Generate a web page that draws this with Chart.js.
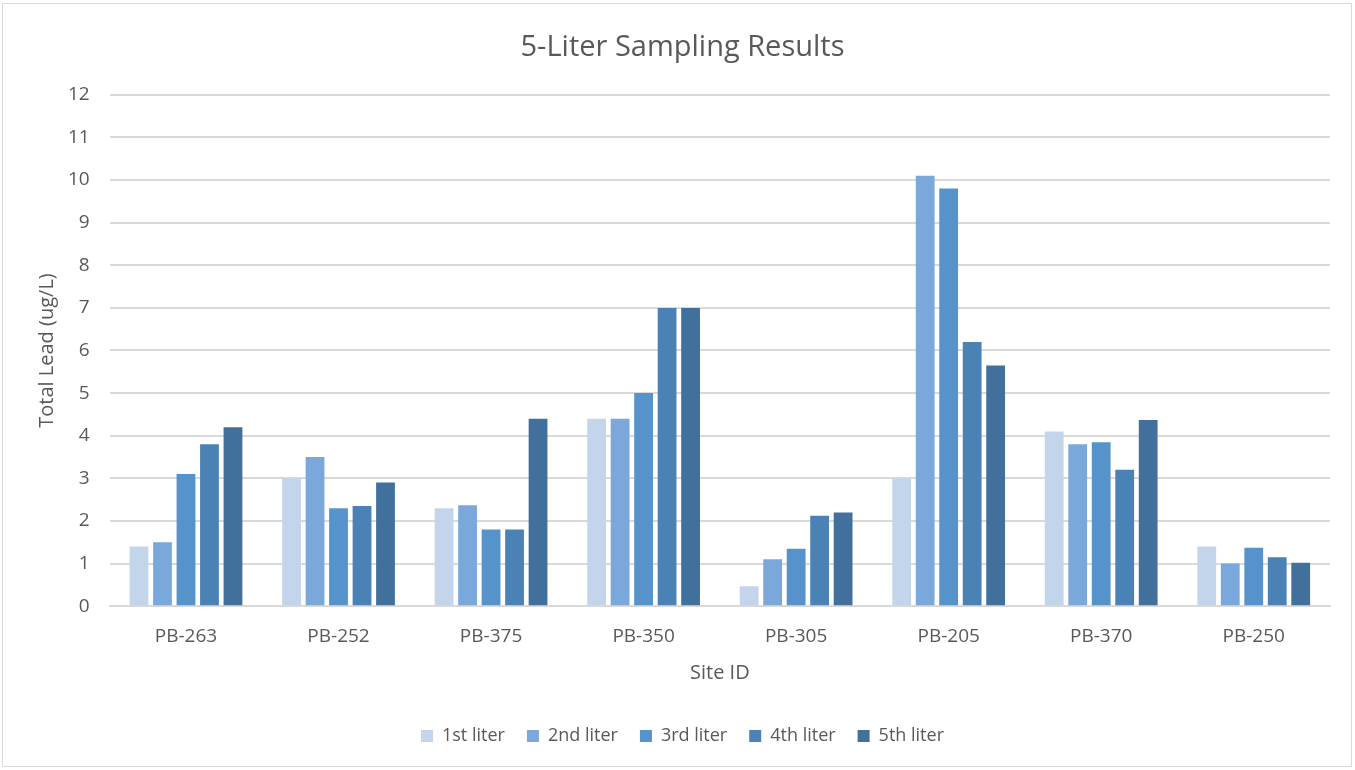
<!DOCTYPE html>
<html>
<head>
<meta charset="utf-8">
<script src="https://cdn.jsdelivr.net/npm/chart.js@4/dist/chart.umd.min.js"></script>
<style>
  html, body { margin: 0; padding: 0; background: #fff; }
  #frame { position: absolute; left: 2px; top: 3px; width: 1350px; height: 764px; border: 1px solid #d9d9d9; box-sizing: border-box; }
  #chart { position: absolute; left: 0; top: 0; }
</style>
</head>
<body>
<div id="frame"></div>
<canvas id="chart" width="1355" height="770"></canvas>
<script>
// sites and lead values per liter (ug/L)
const sites = ['PB-263', 'PB-252', 'PB-375', 'PB-350', 'PB-305', 'PB-205', 'PB-370', 'PB-250'];
const liter1 = [1.4, 3.0, 2.3, 4.4, 0.47, 3.0, 4.1, 1.4];
const liter2 = [1.5, 3.5, 2.37, 4.4, 1.1, 10.1, 3.8, 1.0];
const liter3 = [3.1, 2.3, 1.8, 5.0, 1.35, 9.8, 3.85, 1.37];
const liter4 = [3.8, 2.35, 1.8, 7.0, 2.12, 6.2, 3.2, 1.15];
const liter5 = [4.2, 2.9, 4.4, 7.0, 2.2, 5.65, 4.37, 1.02];
const seriesNames = ['1st liter', '2nd liter', '3rd liter', '4th liter', '5th liter'];
const colours = ['#c3d5ea', '#7ba8da', '#5593ca', '#4b82b5', '#42709c'];

const allSeries = [liter1, liter2, liter3, liter4, liter5];
const textColour = '#595959';
const fontFam = "'Open Sans', 'Noto Sans', sans-serif";

new Chart(document.getElementById('chart').getContext('2d'), {
    type: 'bar',
    data: {
        labels: sites,
        datasets: allSeries.map((vals, i) => ({
            label: seriesNames[i],
            data: vals,
            backgroundColor: colours[i],
            borderWidth: 0,
            categoryPercentage: 0.77,
            barPercentage: 0.8
        }))
    },
    options: {
        responsive: false,
        animation: false,
        devicePixelRatio: 1,
        layout: { padding: { left: 35, right: 25, top: 12, bottom: 15 } },
        plugins: {
            title: {
                display: true,
                text: '5-Liter Sampling Results',
                color: textColour,
                font: { family: fontFam, size: 29, weight: 'normal' },
                padding: { top: 18, bottom: 30 }
            },
            legend: {
                position: 'bottom',
                labels: {
                    color: textColour,
                    font: { family: fontFam, size: 18 },
                    boxWidth: 12,
                    boxHeight: 12,
                    padding: 22
                }
            },
            tooltip: { enabled: false }
        },
        scales: {
            x: {
                grid: { display: false },
                border: { color: '#d9d9d9', width: 2 },
                ticks: { color: textColour, font: { family: fontFam, size: 19 }, padding: 11 },
                title: {
                    display: true,
                    text: 'Site ID',
                    color: textColour,
                    font: { family: fontFam, size: 20 },
                    padding: { top: 2, bottom: 20 }
                }
            },
            y: {
                min: 0,
                max: 12,
                ticks: { stepSize: 1, color: textColour, font: { family: fontFam, size: 19 }, padding: 20 },
                grid: { color: '#d9d9d9', lineWidth: 2, drawTicks: false },
                border: { display: false },
                title: {
                    display: true,
                    text: 'Total Lead (ug/L)',
                    color: textColour,
                    font: { family: fontFam, size: 20 },
                    padding: { top: 0, bottom: -11 }
                }
            }
        }
    }
});
</script>
</body>
</html>
